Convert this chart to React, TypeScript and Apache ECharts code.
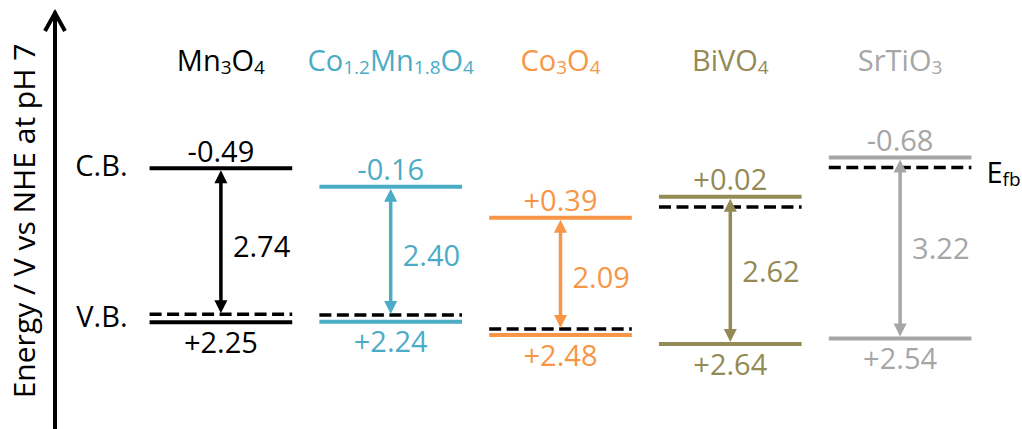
import React, { useEffect, useRef } from "react";
import * as echarts from "echarts";

const materials = ["Mn3O4", "Co1.2Mn1.8O4", "Co3O4", "BiVO4", "SrTiO3"];
const conductionBand = [-0.49, -0.16, 0.39, 0.02, -0.68];
const valenceBand = [2.25, 2.24, 2.48, 2.64, 2.54];
const flatBand = [2.11, 2.12, 2.37, 0.2, -0.5];
const colors = ["#000000", "#4bacc6", "#f79646", "#948a54", "#a6a6a6"];
const axisName = "Energy / V vs NHE at pH 7";
const edgeNames = ["C.B.", "V.B."];
const flatBandName = "{n|E}{s|fb}";

const FONT = "'Open Sans', Lato, sans-serif";
const FS = 29;
const SUB = 19;

function toRich(name: string): string {
  return name.replace(/([A-Za-z]+)|(\d+(?:\.\d+)?)/g, (_m, letters, digits) =>
    letters ? `{n|${letters}}` : `{s|${digits}}`
  );
}

function fmt(v: number): string {
  return v < 0 ? v.toFixed(2) : "+" + v.toFixed(2);
}

const richStyles = {
  n: { fontSize: FS, fontFamily: FONT, lineHeight: 34 },
  s: { fontSize: SUB, fontFamily: FONT, lineHeight: 14, verticalAlign: "bottom" },
};

export default function App() {
  const ref = useRef<HTMLDivElement>(null);

  useEffect(() => {
    document.body.style.margin = "0";
    if (!ref.current) return;
    const chart = echarts.init(ref.current, undefined, { renderer: "svg" });

    const data = materials.map((_, i) => [i, conductionBand[i], valenceBand[i], flatBand[i]]);

    const renderItem = (params: any, api: any) => {
      const idx = params.dataIndex;
      const i = api.value(0);
      const cb = api.value(1);
      const vb = api.value(2);
      const ef = api.value(3);
      const [x, yCb] = api.coord([i, cb]);
      const yVb = api.coord([i, vb])[1];
      const yEf = api.coord([i, ef])[1];
      const band = api.size([1, 0])[0];
      const hw = band * 0.42;
      const color = colors[idx];
      const head = 13;
      const headW = 6.5;
      const pType = ef > (cb + vb) / 2;
      const yTop = yCb + 2;
      const yBot = pType ? yEf - 1 : yVb - 2;

      const children: any[] = [
        {
          type: "line",
          shape: { x1: x - hw, y1: yEf, x2: x + hw, y2: yEf },
          style: { stroke: "#000", lineWidth: 3.5, lineDash: [12, 5.5] },
        },
        {
          type: "line",
          shape: { x1: x - hw, y1: yCb, x2: x + hw, y2: yCb },
          style: { stroke: color, lineWidth: 4 },
        },
        {
          type: "line",
          shape: { x1: x - hw, y1: yVb, x2: x + hw, y2: yVb },
          style: { stroke: color, lineWidth: 4 },
        },
        {
          type: "line",
          shape: { x1: x, y1: yTop + head - 1, x2: x, y2: yBot - head + 1 },
          style: { stroke: color, lineWidth: 3.5 },
        },
        {
          type: "polygon",
          shape: { points: [[x, yTop], [x - headW, yTop + head], [x + headW, yTop + head]] },
          style: { fill: color },
        },
        {
          type: "polygon",
          shape: { points: [[x, yBot], [x - headW, yBot - head], [x + headW, yBot - head]] },
          style: { fill: color },
        },
        {
          type: "text",
          style: {
            text: fmt(cb), x, y: yCb - 18, fill: color, fontSize: FS, fontFamily: FONT,
            align: "center", verticalAlign: "middle",
          },
        },
        {
          type: "text",
          style: {
            text: fmt(vb), x, y: yVb + 19, fill: color, fontSize: FS, fontFamily: FONT,
            align: "center", verticalAlign: "middle",
          },
        },
        {
          type: "text",
          style: {
            text: (vb - cb).toFixed(2), x: x + 12, y: (yCb + yVb) / 2, fill: color,
            fontSize: FS, fontFamily: FONT, align: "left", verticalAlign: "middle",
          },
        },
      ];

      if (idx === 0) {
        children.push(
          {
            type: "text",
            style: {
              text: edgeNames[0], x: x - hw - 22, y: yCb - 4, fill: "#000", fontSize: FS,
              fontFamily: FONT, align: "right", verticalAlign: "middle",
            },
          },
          {
            type: "text",
            style: {
              text: edgeNames[1], x: x - hw - 22, y: yVb - 7, fill: "#000", fontSize: FS,
              fontFamily: FONT, align: "right", verticalAlign: "middle",
            },
          }
        );
      }
      if (idx === materials.length - 1) {
        children.push({
          type: "text",
          style: {
            text: flatBandName, x: x + hw + 15, y: yEf + 4, fill: "#000",
            align: "left", verticalAlign: "middle", rich: richStyles,
          },
        });
      }
      return { type: "group", children };
    };

    chart.setOption({
      animation: false,
      grid: { left: 136, right: 37, top: 13, bottom: 0, containLabel: false, outerBoundsMode: "none" },
      xAxis: {
        type: "category",
        data: materials,
        position: "top",
        axisLine: { show: false },
        axisTick: { show: false },
        splitLine: { show: false },
        axisLabel: {
          inside: true,
          margin: 29,
          interval: 0,
          formatter: (v: string) => toRich(v),
          color: (_v: any, i: number) => colors[i],
          rich: richStyles,
        },
      },
      yAxis: {
        type: "value",
        inverse: true,
        min: -3.25,
        max: 4.15,
        position: "left",
        offset: 81,
        axisLine: { show: true, lineStyle: { color: "#000", width: 4 } },
        axisTick: { show: false },
        axisLabel: { show: false },
        splitLine: { show: false },
        name: axisName,
        nameLocation: "middle",
        nameRotate: 90,
        nameGap: 17,
        nameTextStyle: { fontSize: 30, fontFamily: FONT, color: "#000" },
      },
      graphic: [
        {
          type: "polyline",
          shape: { points: [[45, 31], [55, 13], [65, 31]] },
          style: { stroke: "#000", lineWidth: 4, fill: null },
        },
      ],
      series: [
        {
          type: "custom",
          renderItem,
          data,
          clip: false,
          encode: { x: 0, y: [1, 2, 3] },
        },
      ],
    });

    return () => chart.dispose();
  }, []);

  return <div ref={ref} style={{ width: 1022, height: 429 }} />;
}
